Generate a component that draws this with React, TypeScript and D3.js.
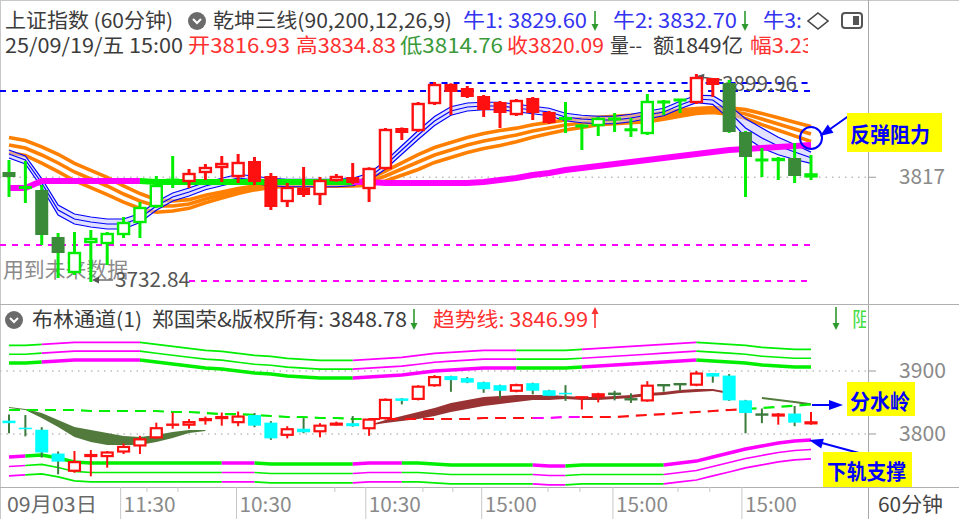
import React from "react";
import * as d3 from "d3";

// ---------------- data ----------------
const opens = [3821.22, 3809.97, 3806.76, 3769.0, 3740.07, 3764.18, 3763.37, 3770.6, 3780.24, 3793.1,
  3813.99, 3813.19, 3820.42, 3824.44, 3817.2, 3830.06, 3818.01, 3797.12, 3808.37, 3802.74,
  3813.99, 3817.2, 3807.56, 3823.63, 3856.57, 3854.16, 3875.86, 3891.93, 3888.71, 3882.29,
  3877.46, 3867.02, 3880.68, 3869.43, 3865.41, 3857.38, 3858.18, 3864.61, 3855.77, 3851.75,
  3878.27, 3879.88, 3876.66, 3896.75, 3892.73, 3853.36, 3831.67, 3830.06, 3832.47, 3816.93];
const closes = [3817.2, 3807.56, 3770.6, 3756.14, 3756.94, 3768.19, 3772.21, 3781.05, 3793.1, 3810.78,
  3815.5, 3820.42, 3825.24, 3828.45, 3829.26, 3813.19, 3793.1, 3809.17, 3802.74, 3814.79,
  3818.01, 3812.38, 3824.44, 3855.77, 3852.56, 3876.66, 3891.93, 3885.5, 3881.48, 3871.04,
  3868.63, 3879.07, 3868.63, 3860.59, 3863.0, 3858.98, 3864.61, 3863.0, 3854.5, 3878.27,
  3876.66, 3878.27, 3897.55, 3891.12, 3853.36, 3833.27, 3830.06, 3832.47, 3818.01, 3820.09];
const highs = [3830.86, 3830.06, 3810.78, 3772.21, 3773.01, 3774.62, 3773.0, 3785.07, 3797.12, 3818.01,
  3834.08, 3823.63, 3827.65, 3834.08, 3835.68, 3833.27, 3820.42, 3812.38, 3825.24, 3817.2,
  3819.61, 3828.45, 3825.0, 3856.57, 3857.0, 3877.46, 3893.53, 3892.5, 3890.32, 3883.09,
  3878.27, 3879.88, 3881.48, 3870.23, 3877.46, 3859.5, 3865.41, 3868.63, 3864.61, 3883.89,
  3879.07, 3879.88, 3899.96, 3896.75, 3895.14, 3854.16, 3840.5, 3833.27, 3844.52, 3834.83];
const lows = [3801.13, 3796.31, 3762.57, 3736.05, 3738.46, 3732.84, 3746.5, 3768.19, 3768.19, 3792.3,
  3808.37, 3808.37, 3814.79, 3813.19, 3812.38, 3810.78, 3790.69, 3793.1, 3801.13, 3794.71,
  3813.5, 3811.58, 3797.12, 3822.83, 3846.93, 3853.36, 3875.05, 3867.02, 3880.68, 3865.41,
  3856.57, 3866.22, 3863.0, 3859.79, 3852.56, 3838.9, 3850.15, 3853.36, 3849.34, 3850.95,
  3867.02, 3868.63, 3875.86, 3881.48, 3852.56, 3801.13, 3817.2, 3814.79, 3812.38, 3814.76];
// top panel candle colour: r red, g bright green, d dark green
const topKind = "dgddgggggggrrrrrrrrrrrrrrrrrrrrrrrggggggggrrddggdg";

// 乾坤三线 ribbons
const blueMid = [3835.68, 3830.86, 3812.38, 3790.69, 3783.46, 3781.05, 3779.44, 3779.44, 3784.26, 3793.9,
  3801.13, 3805.15, 3809.97, 3813.19, 3816.4, 3814.79, 3813.19, 3812.38, 3812.38, 3812.38,
  3812.38, 3813.19, 3817.2, 3826.85, 3838.9, 3850.95, 3862.2, 3870.23, 3873.45, 3874.25,
  3874.25, 3872.64, 3871.04, 3869.43, 3865.41, 3863.81, 3863.0, 3863.0, 3864.61, 3867.02,
  3869.43, 3875.05, 3879.88, 3879.07, 3869.43, 3856.57, 3848.54, 3842.11, 3837.29, 3832.7];
const blueSpread = [3.2, 3.2, 3.6, 4, 4, 4, 4, 4, 3.6, 3.4,
  3.2, 3.2, 3, 3, 3, 3, 3, 3, 3, 3,
  3, 3, 3, 3.2, 3.4, 3.6, 3.6, 3.4, 3.2, 3,
  3, 3, 3, 3, 3, 3, 3, 3, 3, 3,
  3, 3, 3, 3.5, 5.5, 7.5, 8, 7, 6, 4.5];
const orangeMid = [3842.92, 3840.5, 3834.88, 3828.45, 3821.22, 3815.6, 3809.97, 3803.55, 3797.92, 3793.9,
  3793.9, 3795.51, 3799.53, 3802.74, 3805.96, 3808.37, 3809.97, 3810.78, 3810.78, 3810.78,
  3810.78, 3811.58, 3813.19, 3818.01, 3823.63, 3829.26, 3834.88, 3838.9, 3842.92, 3846.13,
  3848.54, 3850.95, 3854.16, 3856.57, 3858.98, 3860.59, 3862.2, 3863.0, 3863.81, 3864.61,
  3866.22, 3868.63, 3870.23, 3871.04, 3870.23, 3867.82, 3863.81, 3859.79, 3855.77, 3851.75];
const orangeSpread = [6, 6, 6.5, 7, 7, 7, 7, 6.5, 6, 5, 4, 3.5, 3, 2.5, 2, 1.5, 1.2, 1, 1, 1,
  1, 1.5, 2.5, 4, 5, 6, 6, 6, 6, 6, 6, 5.5, 5, 4.5, 4, 3.5, 3, 3, 3, 3,
  2.5, 2.5, 2, 2, 2.5, 3.5, 4.5, 5, 5.5, 6];
const pinkLine = [3808.4, 3808.4, 3814.0, 3814.0, 3814.0, 3814.0, 3814.0, 3814.0, 3814.0, 3813.2,
  3813.2, 3813.2, 3813.2, 3813.2, 3813.2, 3813.2, 3813.2, 3813.2, 3813.2, 3813.2,
  3813.2, 3813.2, 3813.2, 3812.4, 3812.4, 3812.4, 3812.4, 3812.4, 3812.4, 3813.2,
  3814.8, 3816.4, 3818.8, 3820.4, 3822.8, 3824.4, 3826.0, 3827.6, 3829.3, 3830.9,
  3832.5, 3834.1, 3835.7, 3837.3, 3838.9, 3839.7, 3840.5, 3841.3, 3842.1, 3842.9];
const pinkColors = "mmmmmmmmgggggggggggggmmmmmmmmmmmmmmmmmmmmmmmmmmmmm";
const blueDashLevels = [3886.3, 3892.7];
const blueDashStart = [0, 26];
const pinkDashLevels = [3762.6, 3733.6];
const pinkDashStart = [-1, 11];
const priceLevel = 3817;
const lowLabel = "3732.84";
const highLabel = "3899.96";

// 布林通道 lower panel
const bandUpper = [3912.7, 3912.7, 3914.3, 3915.9, 3917.5, 3917.5, 3917.5, 3917.5, 3917.5, 3914.3,
  3911.1, 3907.9, 3904.8, 3903.2, 3900.0, 3896.8, 3895.2, 3892.1, 3890.5, 3888.9,
  3888.9, 3888.9, 3890.5, 3892.1, 3893.7, 3896.8, 3900.0, 3901.6, 3903.2, 3904.8,
  3904.8, 3904.8, 3904.8, 3904.8, 3904.8, 3906.3, 3907.9, 3909.5, 3911.1, 3912.7,
  3914.3, 3915.9, 3917.5, 3915.9, 3914.3, 3912.7, 3909.5, 3907.9, 3906.3, 3906.3];
const bandLower = [3763.5, 3765.1, 3766.7, 3761.9, 3755.6, 3754.0, 3754.0, 3754.0, 3754.0, 3754.0,
  3754.0, 3754.0, 3754.0, 3754.0, 3754.0, 3754.0, 3752.4, 3752.4, 3752.4, 3752.4,
  3752.4, 3752.4, 3754.0, 3754.0, 3754.0, 3754.0, 3752.4, 3750.8, 3750.8, 3750.8,
  3750.8, 3750.8, 3750.8, 3749.2, 3749.2, 3750.8, 3750.8, 3750.8, 3750.8, 3750.8,
  3750.8, 3754.0, 3757.1, 3763.5, 3769.8, 3776.2, 3781.0, 3785.7, 3788.9, 3790.5];
const upperColors = "ggmmmmmmgggggggggggggmmmmmmmmmmggggmmmmmmmggggggg";
const lowerColors = "mggggggggggggmmggggggmmmggggggggmmggggggmmmmmmmmmm";
const trendLine = [3838.1, 3838.1, 3838.1, 3838.1, 3838.1, 3836.5, 3836.5, 3836.5, 3836.5, 3836.5,
  3834.9, 3834.9, 3833.3, 3831.7, 3831.7, 3830.2, 3828.6, 3827.0, 3827.0, 3825.4,
  3825.4, 3823.8, 3823.8, 3823.8, 3823.8, 3823.8, 3823.8, 3823.8, 3823.8, 3825.4,
  3825.4, 3825.4, 3825.4, 3825.4, 3827.0, 3827.0, 3827.0, 3827.0, 3828.6, 3830.2,
  3831.7, 3833.3, 3834.9, 3836.5, 3838.1, 3839.7, 3841.3, 3843.0, 3845.0, 3846.99];
const trendColors = "ggggggggggggggggggggggrrrrrrrrrrmmmrrrrrrrrrrggggg";
const NA = NaN;
const wsTop = [3842.9, 3839.7, 3833.3, 3822.2, 3811.1, 3806.3, 3801.6, 3796.8, 3795.2, 3798.4,
  3803.2, 3806.3, 3806.3, NA, NA, NA, NA, NA, NA, NA,
  NA, NA, 3814.3, 3822.2, 3828.6, 3834.9, 3841.3, 3849.2, 3854.0, 3858.7,
  3860.3, 3861.9, 3861.9, 3861.9, 3860.3, 3858.7, 3858.7, 3860.3, 3861.9, 3865.1,
  3866.7, 3869.8, 3871.4, 3871.4, 3866.7, NA, 3858.7, 3855.6, 3852.4, 3848.8];
const wsBot = [3841.3, 3838.1, 3825.4, 3811.1, 3795.2, 3787.3, 3782.5, 3782.5, 3782.5, 3787.3,
  3793.7, 3801.6, 3804.8, NA, NA, NA, NA, NA, NA, NA,
  NA, NA, 3813.5, 3817.5, 3820.6, 3823.8, 3828.6, 3834.9, 3839.7, 3844.4,
  3847.6, 3850.8, 3854.0, 3854.0, 3855.6, 3854.0, 3854.0, 3855.6, 3857.1, 3860.3,
  3861.9, 3865.1, 3866.7, 3868.3, 3863.5, NA, 3855.6, 3852.4, 3849.2, 3845.3];
const wsColors = "ooooooooooooo---------rrrrrrrrrrrrrrrrrrrrrrr-oooo";
const lowerTicks = [3900, 3800];

// time axis
const axisTickIdx = [6.82, 13.9, 21.8, 28.88, 36.9, 44.78];
const axisLabels = ["11:30", "10:30", "10:30", "15:00", "15:00", "15:00"];
const minorTickIdx = [8.43, 10.32, 19.91, 25.29, 27.12, 32.93, 34.88, 40.87, 42.82];

// ---------------- styles ----------------
const FONT = "'Noto Sans CJK SC','Noto Sans',sans-serif";
const RED = "#ff1010";
const GREEN = "#00ee00";
const DKGREEN = "#3a8a3a";
const CYAN = "#00ffff";
const BLUE = "#0000ff";
const ORANGE = "#ff8000";
const PINK = "#ff00ff";
const N = opens.length;

function groups(n: number, colors: string) {
  const gs: { a: number; b: number; c: string }[] = [];
  let a = 0;
  for (let s = 1; s <= n - 1; s++) {
    if (s === n - 1 || colors[s] !== colors[a]) {
      gs.push({ a, b: s, c: colors[a] });
      a = s;
    }
  }
  return gs;
}

function arrowHead(x1: number, y1: number, x2: number, y2: number, len = 12, w = 5.5) {
  const a = Math.atan2(y2 - y1, x2 - x1);
  const bx = x2 - len * Math.cos(a), by = y2 - len * Math.sin(a);
  const px = -Math.sin(a) * w, py = Math.cos(a) * w;
  return `M${x2},${y2}L${bx + px},${by + py}L${bx - px},${by - py}Z`;
}

function VArrow({ x, y1, y2, color }: { x: number; y1: number; y2: number; color: string }) {
  const dir = y2 > y1 ? 1 : -1;
  return (
    <g>
      <line x1={x} y1={y1} x2={x} y2={y2 - dir * 4} stroke={color} strokeWidth={1.6} />
      <path d={`M${x},${y2}L${x - 3.5},${y2 - dir * 7}L${x + 3.5},${y2 - dir * 7}Z`} fill={color} />
    </g>
  );
}

const T = (p: any) => <text fontFamily={FONT} {...p} />;
const TL = (p: any) => <text fontFamily={FONT} lengthAdjust="spacingAndGlyphs" {...p} />;

export default function App() {
  React.useEffect(() => {
    document.body.style.margin = "0";
  }, []);

  const xs = d3.scaleLinear().domain([0, N - 1]).range([9, 811]);
  const yT = d3.scaleLinear().domain([3732.84, 3899.96]).range([282, 74]);
  const yB = d3.scaleLinear().domain([3800, 3900]).range([434, 371]);

  const lineOf = (vals: number[], y: (v: number) => number, a = 0, b = vals.length - 1) =>
    d3.line<number>().x((_, k) => xs(a + k)).y((v) => y(v))(vals.slice(a, b + 1)) || "";

  const colorMap: Record<string, string> = { g: GREEN, m: PINK, r: RED, o: "#517a3c" };

  // ---- top panel pieces ----
  const blueUp = blueMid.map((v, i) => v + blueSpread[i]);
  const blueDn = blueMid.map((v, i) => v - blueSpread[i]);
  const blueArea = d3.area<number>().x((_, i) => xs(i)).y0((_, i) => yT(blueDn[i])).y1((v) => yT(v))(blueUp) || "";

  const topCandles = opens.map((o, i) => {
    const c = closes[i];
    const x = xs(i);
    const k = topKind[i];
    const col = k === "r" ? RED : k === "g" ? GREEN : DKGREEN;
    const wick = k === "d" ? GREEN : col;
    const yt = yT(Math.max(o, c)), yb = yT(Math.min(o, c));
    const h = yb - yt;
    const up = c >= o;
    let body;
    if (h < 2.5) body = <rect x={x - 6.5} y={(yt + yb) / 2 - 1.5} width={13} height={3} fill={col} />;
    else if (up && k !== "d") body = <rect x={x - 5.5} y={yt + 1} width={11} height={Math.max(h - 2, 1)} fill="#fff" stroke={col} strokeWidth={2.4} />;
    else body = <rect x={x - 6.5} y={yt} width={13} height={h} fill={col} />;
    return (
      <g key={i}>
        <line x1={x} x2={x} y1={yT(highs[i])} y2={yT(lows[i])} stroke={wick} strokeWidth={3} />
        {body}
      </g>
    );
  });

  const lowCandles = opens.map((o, i) => {
    const c = closes[i];
    const x = xs(i);
    const yt = yB(Math.max(o, c)), yb = yB(Math.min(o, c));
    const h = yb - yt;
    const up = c >= o;
    const wickCol = up ? RED : "#3d7a3d";
    let body;
    if (h < 1.4) body = <rect x={x - 6.5} y={(yt + yb) / 2 - 1.2} width={13} height={2.4} fill={up ? RED : "#3d7a3d"} />;
    else if (up) body = <rect x={x - 5.5} y={yt + 1} width={11} height={Math.max(h - 2, 1)} fill="#fff" stroke={RED} strokeWidth={2.2} />;
    else body = <rect x={x - 6.5} y={yt} width={13} height={h} fill={CYAN} />;
    return (
      <g key={i}>
        <line x1={x} x2={x} y1={yB(highs[i])} y2={yB(lows[i])} stroke={wickCol} strokeWidth={2} />
        {body}
      </g>
    );
  });

  const upperOffsets = [0, 14, 28];
  const lowerOffsets = [0, -15, -30];

  const wsArea = (ch: string) =>
    d3.area<number>()
      .defined((v, i) => !isNaN(v) && wsColors[i] === ch)
      .x((_, i) => xs(i))
      .y0((_, i) => yB(wsBot[i]))
      .y1((v) => yB(v))(wsTop) || "";

  return (
    <svg width={959} height={519} style={{ position: "absolute", left: 0, top: 0, background: "#fff" }}>
      <defs>
        <clipPath id="topClip"><rect x={0} y={58} width={868} height={245} /></clipPath>
        <clipPath id="botClip"><rect x={0} y={332} width={868} height={155} /></clipPath>
        <clipPath id="hdrClip"><rect x={0} y={0} width={808} height={60} /></clipPath>
        <clipPath id="hdr2Clip"><rect x={0} y={300} width={866} height={35} /></clipPath>
      </defs>
      <rect x={0} y={0} width={959} height={519} fill="#fff" />

      {/* frame */}
      <line x1={0} x2={959} y1={0.5} y2={0.5} stroke="#c8c8c8" />
      <line x1={0.5} x2={0.5} y1={0} y2={519} stroke="#c8c8c8" />
      <line x1={868.5} x2={868.5} y1={0} y2={519} stroke="#a8a8a8" />
      <line x1={0} x2={959} y1={304.5} y2={304.5} stroke="#b0b0b0" />
      <line x1={0} x2={959} y1={487.5} y2={487.5} stroke="#b0b0b0" />

      {/* header rows */}
      <g clipPath="url(#hdrClip)" fontSize={20}>
        <TL x={5} y={28} textLength={168} fill="#3c3c3c">上证指数 (60分钟)</TL>
        <circle cx={197} cy={21} r={9} fill="#6b6b6b" />
        <path d="M193,19L197,23L201,19" stroke="#fff" strokeWidth={2} fill="none" />
        <TL x={213} y={28} textLength={239} fill="#3c3c3c">乾坤三线(90,200,12,26,9)</TL>
        <TL x={463} y={28} textLength={124} fill="#3434f0">牛1: 3829.60</TL>
        <TL x={613} y={28} textLength={124} fill="#3434f0">牛2: 3832.70</TL>
        <TL x={763} y={28} textLength={39} fill="#3434f0">牛3:</TL>
        <TL x={5} y={53} textLength={178} fill="#3c3c3c">25/09/19/五 15:00</TL>
        <TL x={188} y={53} textLength={102} fill="#ff3030">开3816.93</TL>
        <TL x={296} y={53} textLength={100} fill="#ff3030">高3834.83</TL>
        <TL x={400} y={53} textLength={103} fill="#3a9a3a">低3814.76</TL>
        <TL x={507} y={53} textLength={97} fill="#ff3030">收3820.09</TL>
        <TL x={610} y={53} textLength={32} fill="#3c3c3c">量--</TL>
        <TL x={653} y={53} textLength={90} fill="#3c3c3c">额1849亿</TL>
        <TL x={750} y={53} textLength={64} fill="#ff3030">幅3.23</TL>
      </g>
      <VArrow x={595} y1={11} y2={31} color="#2e9a2e" />
      <VArrow x={745} y1={11} y2={31} color="#2e9a2e" />
      <path d="M818,13L828,21L818,29L808,21Z" fill="none" stroke="#444" strokeWidth={1.6} />
      <rect x={842} y={13} width={20} height={15} rx={3} fill="none" stroke="#555" strokeWidth={2} />
      <rect x={853} y={16} width={6} height={9} fill="#555" />

      {/* ---------- top panel ---------- */}
      <g clipPath="url(#topClip)">
        <line x1={0} x2={868} y1={yT(priceLevel)} y2={yT(priceLevel)} stroke="#bdbdbd" strokeWidth={1.5} strokeDasharray="1.5,5" />
        {blueDashLevels.map((v, k) => (
          <line key={k} x1={blueDashStart[k] ? xs(blueDashStart[k]) - 5 : 0} x2={xs(N - 1)} y1={yT(v)} y2={yT(v)} stroke={BLUE} strokeWidth={2} strokeDasharray="6,6" />
        ))}
        {pinkDashLevels.map((v, k) => (
          <line key={k} x1={pinkDashStart[k] >= 0 ? xs(pinkDashStart[k]) : 0} x2={xs(N - 1)} y1={yT(v)} y2={yT(v)} stroke={PINK} strokeWidth={2} strokeDasharray="6,6" />
        ))}
        <TL x={3} y={277} fontSize={21} textLength={125} fill="#8a8a8a">用到未来数据</TL>
        <line x1={95} x2={113} y1={280} y2={280} stroke="#555" strokeWidth={1.3} />
        <path d={arrowHead(113, 280, 92, 280, 7, 3.5)} fill="#555" />
        <TL x={115} y={287} fontSize={20} textLength={75} fill="#555">{lowLabel}</TL>
        <line x1={700} x2={722} y1={77} y2={80} stroke="#555" strokeWidth={1.3} />
        <path d={arrowHead(722, 80, 697, 76, 7, 3.5)} fill="#555" />
        <TL x={722} y={91} fontSize={20} textLength={75} fill="#555">{highLabel}</TL>

        {/* orange ribbon */}
        {[-1, 0, 1].map((k) => (
          <path key={k} d={lineOf(orangeMid.map((v, i) => v + k * orangeSpread[i]), yT)} fill="none" stroke={ORANGE} strokeWidth={3.6} />
        ))}
        {/* blue ribbon */}
        <path d={blueArea} fill="#c9c9ff" opacity={0.55} />
        {[blueUp, blueMid, blueDn].map((vals, k) => (
          <path key={k} d={lineOf(vals, yT)} fill="none" stroke={BLUE} strokeWidth={1.2} />
        ))}
        {/* thick line */}
        {groups(N, pinkColors).map((g, k) => (
          <path key={k} d={lineOf(pinkLine, yT, g.a, g.b)} fill="none" stroke={colorMap[g.c]} strokeWidth={6} />
        ))}

        {topCandles}
      </g>

      {/* annotation 反弹阻力 */}
      <ellipse cx={811} cy={138} rx={11} ry={11} fill="none" stroke={BLUE} strokeWidth={2} />
      <line x1={850} y1={115} x2={826} y2={132} stroke={BLUE} strokeWidth={2} />
      <path d={arrowHead(850, 115, 820, 136, 13, 5)} fill={BLUE} />
      <rect x={847} y={113} width={95} height={39} fill="#ffff00" />
      <TL x={850} y={142} fontSize={21} textLength={80} fontWeight="bold" fill={BLUE}>反弹阻力</TL>

      {/* right axis top */}
      <line x1={868} x2={876} y1={yT(priceLevel)} y2={yT(priceLevel)} stroke="#999" />
      <TL x={899} y={184} fontSize={21} textLength={46} fill="#8a8a8a">{priceLevel}</TL>

      {/* ---------- lower panel header ---------- */}
      <g clipPath="url(#hdr2Clip)" fontSize={20}>
        <circle cx={14} cy={320} r={9} fill="#6b6b6b" />
        <path d="M10,318L14,322L18,318" stroke="#fff" strokeWidth={2} fill="none" />
        <TL x={32} y={327} textLength={110} fill="#3c3c3c">布林通道(1)</TL>
        <TL x={152} y={327} textLength={255} fill="#3c3c3c">郑国荣&amp;版权所有: 3848.78</TL>
        <TL x={433} y={327} textLength={155} fill="#ff3030">趋势线: 3846.99</TL>
        <T x={852} y={327} fill="#44dd44">阻</T>
      </g>
      <VArrow x={414} y1={309} y2={330} color="#2e9a2e" />
      <VArrow x={595} y1={328} y2={307} color="#ff3030" />
      <VArrow x={836} y1={307} y2={330} color="#2e9a2e" />

      {/* ---------- lower panel ---------- */}
      <g clipPath="url(#botClip)">
        {lowerTicks.map((v) => (
          <line key={v} x1={0} x2={868} y1={yB(v)} y2={yB(v)} stroke="#bdbdbd" strokeWidth={1.5} strokeDasharray="1.5,5" />
        ))}
        {upperOffsets.map((off, j) =>
          groups(N, upperColors).map((g, k) => (
            <path key={`u${j}-${k}`} d={lineOf(bandUpper.map((v) => v + off), yB, g.a, g.b)} fill="none" stroke={colorMap[g.c]} strokeWidth={j === 0 ? 3.4 : 1.6} />
          ))
        )}
        {lowerOffsets.map((off, j) =>
          groups(N, lowerColors).map((g, k) => (
            <path key={`l${j}-${k}`} d={lineOf(bandLower.map((v) => v + off), yB, g.a, g.b)} fill="none" stroke={colorMap[g.c]} strokeWidth={j === 0 ? 3.4 : 1.6} />
          ))
        )}
        <path d={wsArea("o")} fill="#517a3c" />
        <path d={wsArea("r")} fill="#993333" />
        {groups(N, trendColors).map((g, k) => (
          <path key={k} d={lineOf(trendLine, yB, g.a, g.b)} fill="none" stroke={colorMap[g.c]} strokeWidth={2.2} strokeDasharray="11,7" />
        ))}
        {lowCandles}
      </g>

      {/* annotations lower */}
      <line x1={812} y1={405} x2={832} y2={405} stroke={BLUE} strokeWidth={2} />
      <path d={arrowHead(812, 405, 843, 405, 14, 5)} fill={BLUE} />
      <rect x={847} y={382} width={68} height={34} fill="#ffff00" />
      <TL x={850} y={409} fontSize={21} textLength={60} fontWeight="bold" fill={BLUE}>分水岭</TL>
      <line x1={870} y1={456} x2={822} y2={443} stroke={BLUE} strokeWidth={2} />
      <path d={arrowHead(870, 456, 809, 440, 14, 5)} fill={BLUE} />
      <rect x={823} y={452} width={89} height={35} fill="#ffff00" />
      <TL x={827} y={479} fontSize={21} textLength={79} fontWeight="bold" fill={BLUE}>下轨支撑</TL>

      {/* right axis lower */}
      {lowerTicks.map((v) => (
        <g key={v}>
          <line x1={868} x2={876} y1={yB(v)} y2={yB(v)} stroke="#999" />
          <TL x={899} y={yB(v) + 7} fontSize={21} textLength={47} fill="#8a8a8a">{v}</TL>
        </g>
      ))}

      {/* time axis */}
      <TL x={7} y={512} fontSize={20} textLength={90} fill="#6a6a6a">09月03日</TL>
      {axisTickIdx.map((t, k) => (
        <g key={k}>
          <line x1={xs(t)} x2={xs(t)} y1={487} y2={519} stroke="#c8c8c8" />
          <TL x={xs(t) + 3} y={512} fontSize={20} textLength={52} fill="#8a8a8a">{axisLabels[k]}</TL>
        </g>
      ))}
      {minorTickIdx.map((t, k) => (
        <line key={k} x1={xs(t)} x2={xs(t)} y1={487} y2={492} stroke="#c8c8c8" />
      ))}
      <TL x={878} y={512} fontSize={20} textLength={65} fill="#444">60分钟</TL>
    </svg>
  );
}
